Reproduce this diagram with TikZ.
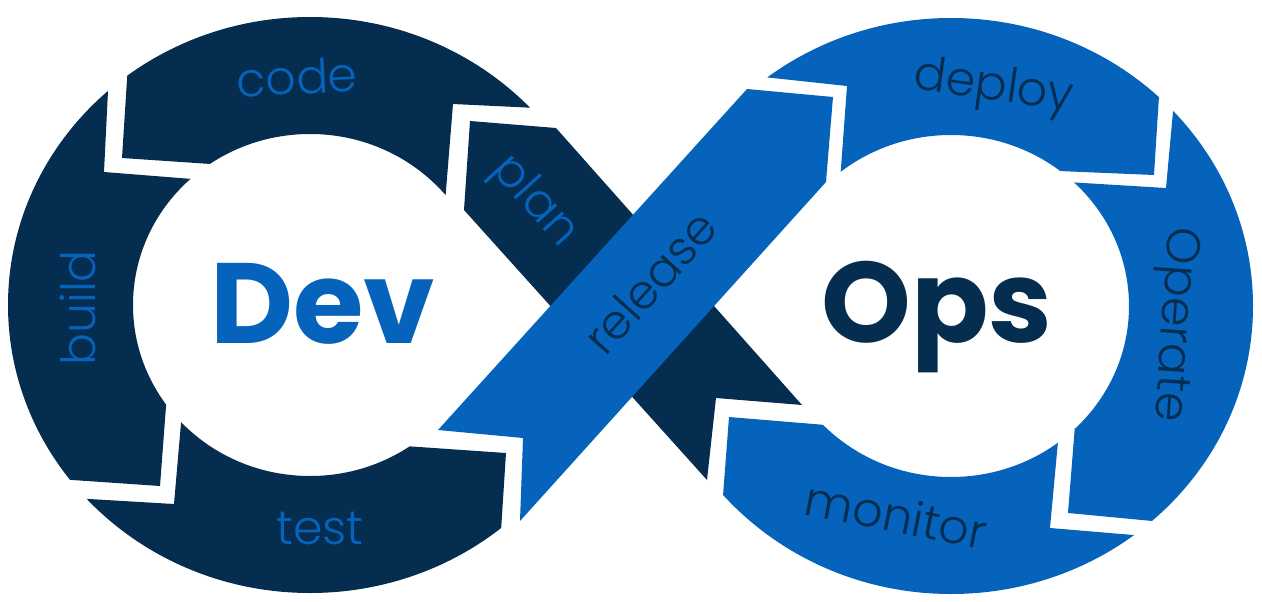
\documentclass[tikz,border=0pt]{standalone}
\usepackage{fontspec}
\setmainfont{Poppins}
\IfFontExistsTF{Poppins Light}{\newfontfamily\lblfont{Poppins Light}}{\newfontfamily\lblfont{Poppins}}
\definecolor{navyc}{HTML}{042D50}
\definecolor{bluec}{HTML}{0563BB}

\begin{document}
\begin{tikzpicture}[x=0.02cm,y=-0.02cm,
   devring/.style={insert path={(310,305) ellipse [x radius=302,y radius=288]
                                (310,305) ellipse [x radius=177,y radius=171]}},
   opsring/.style={insert path={(951,306) ellipse [x radius=302,y radius=288]
                                (951,306) ellipse [x radius=178,y radius=171]}},
   lbl/.style={inner sep=0pt,font=\lblfont\fontsize{27}{27}\selectfont},
   big/.style={inner sep=0pt,font=\bfseries\fontsize{65}{65}\selectfont}
]
\useasboundingbox (0,0) rectangle (1262,602);

% Dev ring: code
\begin{scope}
  \clip (134,-30) -- (122,158) -- (240,166) -- (310,305) -- (444,215)
        -- (453,104) -- (620,112) -- (620,-30) -- cycle;
  \fill[navyc,even odd rule,devring];
\end{scope}
% Dev ring: build
\begin{scope}
  \clip (114,-30) -- (104,172) -- (230,182) -- (310,305) -- (168,380)
        -- (160,486) -- (-30,473) -- (-30,-30) -- cycle;
  \fill[navyc,even odd rule,devring];
\end{scope}
% Dev ring: test
\begin{scope}
  \clip (-30,492) -- (174,504) -- (183,400) -- (310,305) -- (390,445)
        -- (506,453) -- (494,640) -- (-30,640) -- cycle;
  \fill[navyc,even odd rule,devring];
\end{scope}

% plan band (goes under release)
\fill[navyc] (470,121) -- (556,128) -- (802,405) -- (716,398) -- (707,480)
             -- (464,210) -- cycle;
% release band
\fill[bluec] (438,430) -- (523,438) -- (520,521) -- (826,182) -- (833,97)
             -- (747,89) -- cycle;

% Ops ring: deploy
\begin{scope}
  \clip (680,68) -- (847,86) -- (839,195) -- (951,306) -- (1035,170)
        -- (1154,175) -- (1167,-30) -- (680,-30) -- cycle;
  \fill[bluec,even odd rule,opsring];
\end{scope}
% Ops ring: Operate
\begin{scope}
  \clip (1186,-30) -- (1166,188) -- (1050,181) -- (951,306) -- (1077,400)
        -- (1068,513) -- (1300,535) -- (1300,-30) -- cycle;
  \fill[bluec,even odd rule,opsring];
\end{scope}
% Ops ring: monitor
\begin{scope}
  \clip (712,640) -- (729,417) -- (850,427) -- (951,306) -- (1060,420)
        -- (1050,528) -- (1300,549) -- (1300,640) -- cycle;
  \fill[bluec,even odd rule,opsring];
\end{scope}

% labels
\node[lbl,bluec,anchor=base,rotate=3] (code) at (298,94) {code};
\node[lbl,bluec,anchor=base,rotate=90] (build) at (95,308) {build};
\node[lbl,bluec,anchor=base] (test) at (320,544) {test};
\node[lbl,bluec,rotate=-48] (plan) at (534,202) {plan};
\node[lbl,navyc,rotate=48] (release) at (650,282) {release};
\node[lbl,navyc,anchor=base,rotate=-8] (deploy) at (992,100) {deploy};
\node[lbl,navyc,anchor=base,rotate=-94] (operate) at (1162,324) {Operate};
\node[lbl,navyc,anchor=base,rotate=-11] (monitor) at (893,532) {monitor};

\node[big,bluec,anchor=base] (dev) at (323,343) {Dev};
\node[big,navyc,anchor=base] (ops) at (937,342) {Ops};
\end{tikzpicture}
\end{document}
